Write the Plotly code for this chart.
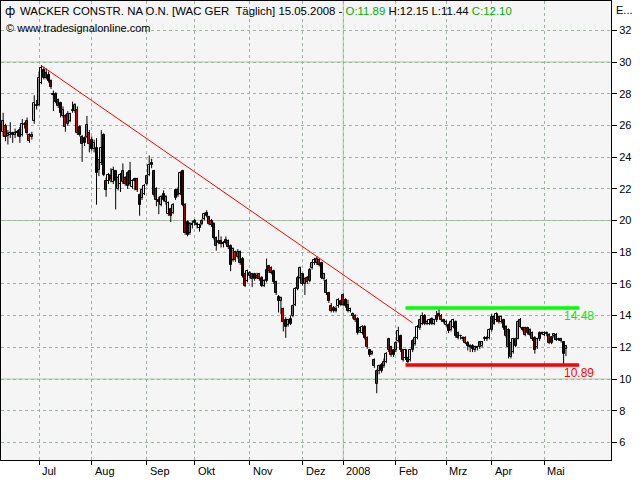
import pandas as pd
import plotly.graph_objects as go

# ---------------- data ----------------
holidays = ["2007-12-24", "2007-12-25", "2007-12-26", "2007-12-31",
            "2008-01-01", "2008-03-21", "2008-03-24", "2008-05-01"]
dates = [d for d in pd.bdate_range("2007-06-11", "2008-05-15")
         if d.strftime("%Y-%m-%d") not in holidays]

open_prices = [
    # Jun
    25.6, 25.95, 25.35, 25.4, 25.5, 25.4, 25.5, 25.7, 25.4, 26.0, 26.3, 25.4, 25.3, 26.3, 27.3,
    # Jul
    27.3, 28.7, 29.5, 29.3, 29.2, 28.8, 27.9, 28.0, 27.6, 27.4, 26.6, 26.6, 26.1, 26.3, 26.9, 26.9, 27.0, 25.9, 25.3, 24.9, 25.3, 25.5,
    # Aug
    25.1, 24.5, 24.6, 23.2, 23.6, 25.4, 22.5, 22.5, 22.8, 22.4, 23.1, 22.0, 22.3, 22.4, 22.7, 22.2, 23.1, 22.1, 22.6, 22.6, 21.6, 21.4, 21.7,
    # Sep
    22.3, 22.9, 23.5, 23.1, 22.0, 21.3, 21.0, 21.7, 21.2, 20.4, 20.7, 20.5, 21.4, 21.9, 21.7, 23.1, 21.0, 19.9, 19.2, 19.7,
    # Oct
    19.95, 19.8, 19.5, 19.8, 20.1, 20.5, 20.2, 20.0, 19.8, 18.9, 18.6, 18.7, 18.5, 18.8, 18.7, 18.4, 17.5, 18.0, 17.7, 18.0, 17.6, 16.6, 16.2,
    # Nov
    16.5, 16.6, 16.3, 16.5, 16.6, 16.4, 15.9, 16.2, 17.1, 17.0, 16.8, 16.1, 15.2, 14.9, 14.4, 13.7, 13.4, 13.5, 14.0, 14.7, 15.7, 16.4,
    # Dec
    16.6, 16.0, 16.4, 16.2, 17.0, 17.3, 17.3, 17.5, 17.3, 16.3, 16.2, 15.4, 14.6, 14.3, 14.4, 14.6, 14.9,
    # Jan
    15.3, 15.0, 14.7, 14.3, 14.0, 14.0, 13.8, 13.0, 12.9, 13.3, 12.6, 11.8, 11.6, 11.2, 9.7, 10.5, 10.9, 10.8, 11.1, 11.8, 12.0, 11.5,
    # Feb
    11.8, 12.4, 12.7, 11.8, 11.3, 11.3, 11.2, 11.8, 12.2, 12.6, 13.2, 13.5, 14.0, 13.5, 13.5, 13.8, 13.5, 13.7, 14.1, 14.0, 13.7,
    # Mar
    13.4, 13.4, 13.1, 13.3, 13.6, 12.9, 12.7, 12.5, 12.6, 12.3, 12.0, 12.1, 11.85, 12.0, 12.0, 12.1, 12.6, 12.5, 12.6,
    # Apr
    13.1, 13.9, 13.7, 13.9, 13.6, 13.7, 13.3, 13.1, 11.4, 11.7, 12.1, 12.55, 13.7, 13.2, 13.2, 12.9, 13.1, 12.9, 12.6, 12.0, 12.5, 12.9,
    # May
    12.8, 12.9, 12.8, 12.3, 12.7, 12.8, 12.5, 12.5, 12.35, 11.89,
]
high_prices = [
    26.8, 26.1, 25.7, 26.2, 25.6, 25.8, 25.7, 25.9, 26.4, 26.2, 26.5, 25.5, 25.6, 27.9, 27.6,
    29.4, 29.8, 29.7, 29.6, 29.4, 28.9, 28.2, 28.1, 27.7, 27.5, 27.2, 26.7, 26.9, 26.8, 27.5, 27.4, 27.2, 26.0, 25.4, 25.3, 26.6, 25.7,
    25.3, 25.1, 25.2, 23.9, 25.7, 25.5, 22.7, 23.0, 23.3, 23.4, 23.2, 22.8, 23.0, 23.6, 22.8, 23.1, 23.7, 22.6, 22.7, 22.7, 21.7, 22.0, 22.3,
    22.9, 24.1, 23.9, 23.2, 22.1, 21.5, 21.6, 21.9, 21.6, 21.2, 20.8, 21.1, 22.0, 22.1, 23.1, 23.2, 21.1, 20.0, 19.9, 20.0,
    20.1, 19.9, 19.8, 20.1, 20.5, 20.65, 20.3, 20.1, 19.9, 19.0, 19.4, 19.0, 18.7, 19.0, 18.8, 18.5, 18.3, 18.1, 18.2, 18.1, 17.7, 16.7, 16.9,
    16.8, 16.7, 16.7, 16.7, 16.7, 16.5, 16.3, 17.6, 17.2, 17.1, 16.9, 16.2, 15.3, 15.2, 14.5, 13.9, 13.8, 14.0, 14.7, 15.8, 16.5, 17.1,
    16.7, 16.4, 16.5, 17.0, 17.4, 17.65, 17.75, 17.6, 17.4, 16.7, 16.3, 15.5, 14.8, 14.6, 14.6, 15.1, 15.0,
    15.4, 15.1, 15.0, 14.5, 14.2, 14.1, 13.9, 13.3, 13.4, 13.4, 12.7, 11.9, 11.8, 11.3, 10.6, 10.9, 11.0, 11.3, 11.7, 12.6, 12.1, 11.9,
    12.4, 13.3, 12.8, 11.9, 11.9, 11.4, 11.9, 12.5, 12.7, 13.4, 13.8, 14.2, 14.1, 13.7, 13.8, 13.9, 13.8, 14.3, 14.48, 14.1, 13.8,
    13.7, 13.5, 13.7, 13.8, 13.7, 13.0, 12.8, 12.7, 12.7, 12.4, 12.2, 12.2, 12.1, 12.1, 12.4, 12.4, 12.7, 12.7, 13.2,
    14.1, 14.0, 14.2, 14.0, 14.0, 13.8, 13.4, 13.2, 12.3, 12.6, 12.6, 13.7, 13.85, 13.3, 13.3, 13.3, 13.2, 13.0, 12.7, 12.6, 13.0, 13.0,
    13.0, 13.0, 12.9, 12.7, 12.9, 12.9, 12.6, 12.6, 12.4, 12.15,
]
low_prices = [
    25.3, 25.0, 24.8, 25.2, 24.9, 25.2, 25.3, 24.9, 25.3, 25.8, 25.4, 24.9, 25.1, 26.1, 27.0,
    27.2, 28.6, 28.9, 28.9, 28.7, 28.3, 26.9, 27.4, 27.1, 26.5, 26.5, 25.6, 26.0, 26.2, 26.8, 26.8, 25.4, 25.3, 23.7, 24.7, 25.2, 24.3,
    24.4, 24.3, 21.0, 22.8, 23.5, 22.8, 21.5, 22.3, 22.4, 22.3, 20.7, 21.9, 21.8, 22.3, 22.2, 22.0, 22.2, 22.0, 21.9, 21.8, 20.3, 21.3, 21.6,
    22.2, 22.8, 23.3, 21.5, 20.9, 20.4, 20.9, 21.2, 21.0, 20.3, 19.9, 20.4, 21.3, 21.5, 21.6, 20.9, 19.1, 19.0, 19.1, 19.5,
    19.7, 19.5, 19.3, 19.7, 20.0, 20.2, 19.7, 19.6, 18.8, 18.1, 18.5, 18.3, 18.3, 18.5, 18.2, 16.8, 17.4, 17.4, 17.6, 17.2, 16.4, 15.8, 16.1,
    16.4, 15.8, 16.2, 16.3, 16.2, 15.8, 15.8, 16.1, 16.7, 16.6, 16.0, 15.3, 14.2, 14.1, 13.0, 12.6, 13.3, 13.4, 13.9, 14.6, 15.6, 16.3,
    15.9, 15.3, 16.0, 16.1, 16.9, 17.2, 17.2, 17.1, 16.3, 16.2, 15.3, 14.8, 14.2, 14.2, 14.2, 14.5, 14.6,
    14.6, 14.5, 14.2, 14.2, 13.8, 13.6, 12.8, 12.9, 12.8, 12.5, 11.9, 11.4, 11.5, 10.7, 9.1, 10.3, 10.4, 10.7, 11.0, 11.7, 11.4, 11.4,
    11.7, 12.3, 11.7, 11.1, 11.2, 11.0, 11.1, 11.7, 12.1, 12.5, 13.1, 13.4, 13.4, 13.4, 13.4, 13.4, 13.4, 13.6, 13.9, 13.6, 13.5,
    13.3, 12.9, 13.0, 13.2, 12.6, 12.5, 12.5, 12.4, 12.2, 11.8, 11.7, 11.7, 11.7, 11.8, 11.9, 12.0, 12.4, 12.4, 12.5,
    13.0, 13.4, 13.6, 13.5, 13.5, 13.1, 12.6, 11.3, 11.3, 11.6, 12.0, 12.5, 13.2, 13.0, 12.7, 12.8, 12.7, 12.4, 11.6, 11.9, 12.4, 12.8,
    12.7, 12.7, 12.2, 12.2, 12.6, 12.4, 12.4, 12.3, 10.9, 11.44,
]
close_prices = [
    26.3, 25.25, 25.45, 25.5, 25.4, 25.5, 25.6, 25.3, 26.1, 26.1, 25.5, 25.0, 25.4, 27.4, 27.2,
    29.0, 29.6, 29.0, 29.0, 28.8, 28.4, 28.0, 27.5, 27.2, 26.8, 27.0, 25.9, 26.7, 26.7, 27.0, 27.3, 25.5, 25.4, 24.8, 25.2, 26.0, 24.8,
    24.5, 24.9, 23.0, 23.8, 24.6, 22.9, 21.9, 22.9, 22.6, 23.2, 22.5, 22.7, 22.9, 23.1, 22.3, 23.0, 22.3, 22.5, 22.5, 21.9, 21.0, 21.9, 22.2,
    22.8, 23.5, 23.6, 21.6, 21.3, 21.2, 21.5, 21.3, 21.5, 21.1, 20.3, 21.0, 21.9, 21.6, 23.0, 21.0, 19.2, 19.1, 19.8, 19.8,
    19.85, 19.7, 19.7, 20.0, 20.4, 20.3, 19.8, 19.7, 18.9, 18.4, 18.7, 18.5, 18.6, 18.6, 18.3, 17.2, 18.2, 17.5, 18.0, 17.3, 16.5, 15.9, 16.8,
    16.7, 16.3, 16.6, 16.4, 16.3, 15.9, 16.2, 16.9, 16.8, 16.7, 16.1, 15.4, 14.9, 15.1, 13.6, 13.3, 13.7, 13.8, 14.6, 15.7, 16.4, 17.0,
    16.0, 16.3, 16.1, 16.9, 17.3, 17.5, 17.6, 17.2, 16.4, 16.6, 15.4, 14.9, 14.3, 14.5, 14.3, 15.0, 14.7,
    14.7, 14.6, 14.3, 14.4, 14.1, 13.7, 12.9, 13.2, 13.3, 12.6, 12.0, 11.5, 11.7, 10.8, 10.5, 10.8, 10.5, 11.1, 11.6, 12.5, 11.5, 11.8,
    12.3, 13.0, 11.8, 11.2, 11.8, 11.1, 11.8, 12.4, 12.6, 13.3, 13.7, 14.0, 13.5, 13.6, 13.7, 13.5, 13.7, 14.0, 14.0, 13.7, 13.6,
    13.6, 13.0, 13.6, 13.7, 12.7, 12.6, 12.7, 12.6, 12.3, 12.1, 12.1, 11.9, 12.05, 11.95, 12.35, 12.35, 12.5, 12.6, 13.1,
    13.9, 13.5, 14.1, 13.6, 13.9, 13.2, 12.7, 12.0, 12.25, 12.5, 12.5, 13.6, 13.3, 13.1, 12.8, 13.2, 12.8, 12.5, 11.8, 12.5, 12.9, 12.85,
    12.9, 12.85, 12.3, 12.65, 12.85, 12.45, 12.45, 12.4, 11.6, 12.10,
]

month_labels = ["Jul", "Aug", "Sep", "Okt", "Nov", "Dez", "2008", "Feb", "Mrz", "Apr", "Mai"]
y_ticks = [6, 8, 10, 12, 14, 16, 18, 20, 22, 24, 26, 28, 30, 32]
major_levels = [10, 20, 30]

trend_dates = ["2007-07-03", "2008-02-12"]
trend_values = [29.77, 13.54]

resistance = 14.48
support = 10.89
level_start_date = "2008-02-07"

title_text = "WACKER CONSTR. NA O.N. [WAC GER  Täglich] 15.05.2008 - "
ohlc_labels = ["O:11.89", "H:12.15", "L:11.44", "C:12.10"]

# ---------------- helpers ----------------
date_str = [d.strftime("%Y-%m-%d") for d in dates]
xi = list(range(len(dates)))
month_idx = []
for i in range(1, len(dates)):
    if dates[i].month != dates[i - 1].month:
        month_idx.append(i)
month_idx = month_idx[:len(month_labels)]
year_idx = month_idx[month_labels.index("2008")]

trend_x = [date_str.index(d) for d in trend_dates]
lvl_x0 = date_str.index(level_start_date)
lvl_x1 = xi[-1] + 5.5

# candle pieces built from the OHLC lists
MIN_BODY = 0.04
wick_x, wick_y = [], []
up_x, up_base, up_h = [], [], []
dn_x, dn_base, dn_h = [], [], []
for i, (o, h, l, c) in enumerate(zip(open_prices, high_prices, low_prices, close_prices)):
    wick_x += [i, i, None]
    wick_y += [l, h, None]
    body = max(abs(c - o), MIN_BODY)
    if c >= o:
        up_x.append(i); up_base.append(min(o, c)); up_h.append(body)
    else:
        dn_x.append(i); dn_base.append(min(o, c)); dn_h.append(body)

FONT = "Liberation Sans"
GRID = "#a3b3a3"
SOLID = "#a9c6a9"

fig = go.Figure()
fig.add_trace(go.Scatter(x=wick_x, y=wick_y, mode="lines", line=dict(color="black", width=1),
                         showlegend=False, hoverinfo="skip"))
fig.add_trace(go.Bar(x=up_x, y=up_h, base=up_base, width=0.85,
                     marker=dict(color="white", line=dict(color="black", width=1)),
                     showlegend=False, hoverinfo="skip"))
fig.add_trace(go.Bar(x=dn_x, y=dn_h, base=dn_base, width=0.85,
                     marker=dict(color="#ff0000", line=dict(color="black", width=1)),
                     showlegend=False, hoverinfo="skip"))
fig.add_trace(go.Scatter(x=trend_x, y=trend_values, mode="lines",
                         line=dict(color="#ff0000", width=1), showlegend=False, hoverinfo="skip"))
fig.add_trace(go.Scatter(x=[lvl_x0, lvl_x1], y=[resistance, resistance], mode="lines",
                         line=dict(color="#00ff00", width=3.5), showlegend=False, hoverinfo="skip"))
fig.add_trace(go.Scatter(x=[lvl_x0, lvl_x1], y=[support, support], mode="lines",
                         line=dict(color="#ff0000", width=3.5), showlegend=False, hoverinfo="skip"))

shapes = []
for lv in major_levels:
    shapes.append(dict(type="line", xref="paper", x0=0, x1=1, yref="y", y0=lv, y1=lv,
                       line=dict(color=SOLID, width=1), layer="below"))
shapes.append(dict(type="line", xref="x", x0=year_idx, x1=year_idx, yref="paper", y0=0, y1=1,
                   line=dict(color=SOLID, width=1), layer="below"))

ann = []
for idx, lab in zip(month_idx, month_labels):
    ann.append(dict(x=idx, y=0, xref="x", yref="paper", text=lab, showarrow=False,
                    xanchor="left", yanchor="top", xshift=1, yshift=-3,
                    font=dict(family=FONT, size=11, color="black")))
ann.append(dict(x=lvl_x1, y=resistance, xref="x", yref="y", text=f"{resistance:.2f}",
                showarrow=False, xanchor="center", yanchor="top", yshift=1,
                font=dict(family=FONT, size=12, color="#00ee00")))
ann.append(dict(x=lvl_x1, y=support, xref="x", yref="y", text=f"{support:.2f}",
                showarrow=False, xanchor="center", yanchor="top", yshift=1,
                font=dict(family=FONT, size=12, color="#ff0000")))
hdr = (title_text + f"<span style='color:#00b000'>{ohlc_labels[0]}</span> "
       + f"{ohlc_labels[1]} {ohlc_labels[2]} "
       + f"<span style='color:#00b000'>{ohlc_labels[3]}</span>")
ann.append(dict(x=0, y=1, xref="paper", yref="paper", text=hdr, showarrow=False,
                xanchor="left", yanchor="middle", xshift=17, yshift=-10,
                font=dict(family=FONT, size=11.4, color="black")))
ann.append(dict(x=0, y=1, xref="paper", yref="paper", text="ф", showarrow=False,
                xanchor="left", yanchor="middle", xshift=2, yshift=-10,
                font=dict(family="DejaVu Sans", size=12, color="black")))
ann.append(dict(x=0, y=1, xref="paper", yref="paper", text="© www.tradesignalonline.com",
                showarrow=False, xanchor="left", yanchor="middle", xshift=3, yshift=-27,
                font=dict(family=FONT, size=11, color="black")))
ann.append(dict(x=1, y=1, xref="paper", yref="paper", text="E...", showarrow=False,
                xanchor="left", yanchor="middle", xshift=3, yshift=-9,
                font=dict(family=FONT, size=11, color="black")))

fig.update_layout(
    width=640, height=480,
    margin=dict(l=1, r=29, t=1, b=20),
    paper_bgcolor="white", plot_bgcolor="#f5f5f5",
    barmode="overlay", bargap=0,
    shapes=shapes, annotations=ann,
    font=dict(family=FONT, size=11, color="black"),
    xaxis=dict(range=[-0.88, 253.8], tickvals=month_idx, showticklabels=False,
               ticks="outside", ticklen=4, tickcolor="black",
               showgrid=True, gridcolor=GRID, griddash="dot", gridwidth=1,
               showline=True, linecolor="black", linewidth=1, mirror=True,
               zeroline=False, fixedrange=True),
    yaxis=dict(range=[4.89, 33.85], side="right", tickvals=y_ticks,
               ticks="outside", ticklen=5, tickcolor="black",
               tickfont=dict(family=FONT, size=11, color="black"),
               showgrid=True, gridcolor=GRID, griddash="dot", gridwidth=1,
               showline=True, linecolor="black", linewidth=1, mirror=True,
               zeroline=False, fixedrange=True),
)

fig.write_html("out.html", config={"displayModeBar": False},
               post_script="document.body.style.margin='0px';")
